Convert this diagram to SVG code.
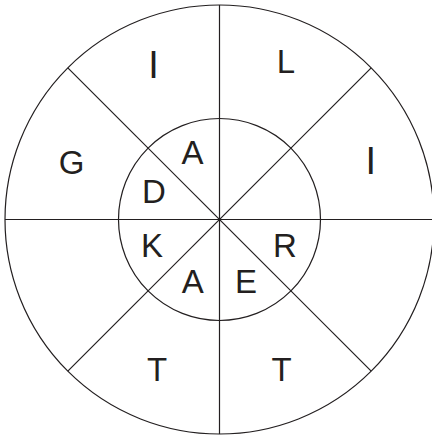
<svg xmlns="http://www.w3.org/2000/svg" width="432" height="438" viewBox="0 0 432 438">
<style>
.ln{stroke:#231f20;stroke-width:1.2;fill:none}
.t{font-family:"Liberation Sans",Arial,sans-serif;font-size:33px;fill:#231f20;text-anchor:middle}
.tall{font-size:38px}
</style>
<rect width="432" height="438" fill="#fff"/>
<g id="outer-circle"><circle class="ln" cx="219.5" cy="219.5" r="214.5"/></g>
<g id="inner-circle"><circle class="ln" cx="219.5" cy="219.5" r="101"/></g>
<g id="connectors">
<line class="ln" x1="219.5" y1="5" x2="219.5" y2="434"/>
<line class="ln" x1="5" y1="219.5" x2="434" y2="219.5"/>
<line class="ln" x1="67.8" y1="67.8" x2="371.2" y2="371.2"/>
<line class="ln" x1="371.2" y1="67.8" x2="67.8" y2="371.2"/>
<circle cx="219.5" cy="219.5" r="1.6" fill="#231f20"/>
</g>
<g id="outer-labels">
<text class="t tall" x="153.5" y="78">I</text>
<text class="t" x="286" y="73">L</text>
<text class="t" x="71.5" y="173.5">G</text>
<text class="t tall" x="370.8" y="173.5">I</text>
<text class="t" x="157" y="381">T</text>
<text class="t" x="281.5" y="381">T</text>
</g>
<g id="inner-labels">
<text class="t" x="192.5" y="164">A</text>
<text class="t" x="154" y="203">D</text>
<text class="t" x="152" y="257">K</text>
<text class="t" x="192.7" y="293">A</text>
<text class="t" x="246" y="293">E</text>
<text class="t" x="285" y="257">R</text>
</g>
</svg>
